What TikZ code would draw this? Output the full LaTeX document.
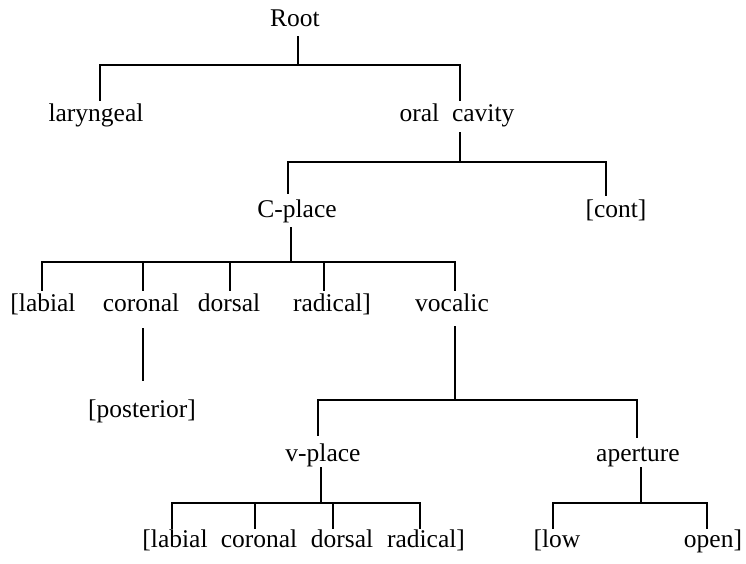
\documentclass[tikz,border=0pt]{standalone}
\usepackage{fontspec}
\setmainfont{Liberation Serif}
\begin{document}
\begin{tikzpicture}[x=1pt,y=-1pt,
  lbl/.style={inner sep=0pt, anchor=base, font=\fontsize{25.5}{30}\selectfont},
  branch/.style={line width=1.4pt, line cap=rect}]
\useasboundingbox (0,0) rectangle (746,564);
% nodes
\node[lbl] (root) at (295,27) {Root};
\node[lbl] (lar) at (96,122) {laryngeal};
\node[lbl] (oc) at (457,122) {oral\hspace{0.5em}cavity};
\node[lbl] (cp) at (297,217) {C-place};
\node[lbl] (cont) at (616,217) {[cont]};
\node[lbl] (lab1) at (43,311) {[labial};
\node[lbl] (cor1) at (141,311) {coronal};
\node[lbl] (dor1) at (229,311) {dorsal};
\node[lbl] (rad1) at (332,311) {radical]};
\node[lbl] (voc) at (452,311) {vocalic};
\node[lbl] (post) at (142,417) {[posterior]};
\node[lbl] (vp) at (323,461) {v-place};
\node[lbl] (ap) at (638,461) {aperture};
\node[lbl] (lab2) at (175,547) {[labial};
\node[lbl] (cor2) at (259,547) {coronal};
\node[lbl] (dor2) at (342,547) {dorsal};
\node[lbl] (rad2) at (426,547) {radical]};
\node[lbl] (low) at (557,547) {[low};
\node[lbl] (open) at (713,547) {open]};
% connectors
\draw[branch] ([shift={(3,10)}]root.base) -- ++(0,28);
\draw[branch] ([shift={(4,-22)}]lar.base) -- ++(0,-35) -| ([shift={(3,-22)}]oc.base);
\draw[branch] ([shift={(3,11)}]oc.base) -- ++(0,29);
\draw[branch] ([shift={(-9,-24)}]cp.base) -- ++(0,-31) -| ([shift={(-10,-22)}]cont.base);
\draw[branch] ([shift={(-6,11)}]cp.base) -- ++(0,34);
\draw[branch] ([shift={(-1,-21)}]lab1.base) -- ++(0,-28) -| ([shift={(3,-21)}]voc.base);
\draw[branch] ([shift={(2,-21)}]cor1.base) -- ++(0,-28);
\draw[branch] ([shift={(1,-21)}]dor1.base) -- ++(0,-28);
\draw[branch] ([shift={(-8,-21)}]rad1.base) -- ++(0,-28);
\draw[branch] ([shift={(2,18)}]cor1.base) -- ([shift={(1,-37)}]post.base);
\draw[branch] ([shift={(3,16)}]voc.base) -- ++(0,73);
\draw[branch] ([shift={(-5,-26)}]vp.base) -- ++(0,-35) -| ([shift={(-1,-24)}]ap.base);
\draw[branch] ([shift={(-2,7)}]vp.base) -- ++(0,35);
\draw[branch] ([shift={(-3,-19)}]lab2.base) -- ++(0,-25) -| ([shift={(-6,-19)}]rad2.base);
\draw[branch] ([shift={(-4,-19)}]cor2.base) -- ++(0,-25);
\draw[branch] ([shift={(-9,-19)}]dor2.base) -- ++(0,-25);
\draw[branch] ([shift={(3,7)}]ap.base) -- ++(0,35);
\draw[branch] ([shift={(-4,-19)}]low.base) -- ++(0,-25) -| ([shift={(-6,-19)}]open.base);
\end{tikzpicture}
\end{document}
